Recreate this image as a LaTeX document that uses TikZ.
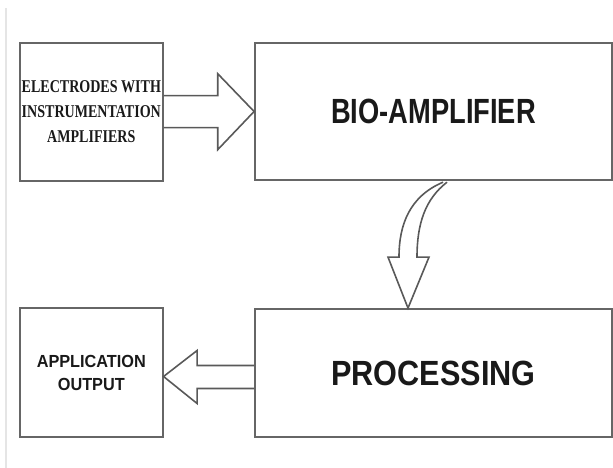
\documentclass[tikz,border=0pt]{standalone}
\usepackage{fontspec}
\setmainfont{Liberation Serif}
\setsansfont{Liberation Sans}
\usepackage{graphicx}
\usepackage{tikz}
\usetikzlibrary{calc}
\newcommand{\narrowtxt}[2][0.8]{\scalebox{#1}[1]{#2}}

\begin{document}
\begin{tikzpicture}[x=1pt,y=-1pt]
\tikzset{blk/.style={draw=black!60,line width=1.8pt,rectangle,inner sep=0pt,text=black!90}}
\tikzset{barrow/.style={draw=black!65,line width=1.6pt,line join=miter}}
\useasboundingbox (0,0) rectangle (613,468);
\draw [black!10,line width=1.5pt] (6,8) -- (6,468);

\node (1) at (91.3,111.7) [blk,minimum width=143pt,minimum height=138pt,align=center,font=\bfseries\fontsize{18}{24.7}\selectfont] {\narrowtxt[0.78]{ELECTRODES WITH}\\\narrowtxt[0.78]{INSTRUMENTATION}\\\narrowtxt[0.78]{AMPLIFIERS}};
\node (2) at (433.5,111.5) [blk,minimum width=357pt,minimum height=137.6pt,font=\sffamily\bfseries\fontsize{35}{40}\selectfont] {\narrowtxt[0.78]{BIO-AMPLIFIER}};
\node (3) at (433.5,373) [blk,minimum width=357pt,minimum height=128pt,font=\sffamily\bfseries\fontsize{35}{40}\selectfont] {\narrowtxt[0.875]{PROCESSING}};
\node (4) at (91.3,372.5) [blk,minimum width=142.7pt,minimum height=128.4pt,align=center,font=\sffamily\bfseries\fontsize{17.5}{23}\selectfont] {\narrowtxt[0.93]{APPLICATION}\\\narrowtxt[0.93]{OUTPUT}};

% block arrows
\draw [barrow] ($(1.east)+(0,-16)$) -- ++(54,0) -- ++(0,-22) -- (2.west) -- ($(1.east)+(54,38)$) -- ++(0,-22) -- ($(1.east)+(0,16)$);
\draw [barrow] ($(2.south)+(9.5,1)$) .. controls ($(2.south)+(-23.5,15)$) and ($(3.north)+(-34.5,-84)$) .. ($(3.north)+(-34.5,-51)$) -- ++(-11,0) -- ($(3.north)+(-25.5,0)$) -- ($(3.north)+(-4.5,-51)$) -- ++(-12,0) .. controls ($(3.north)+(-16.5,-84)$) and ($(2.south)+(-8.5,18)$) .. ($(2.south)+(13.5,1)$);
\draw [barrow] ($(3.west)+(0,-7.5)$) -- ++(-57,0) -- ++(0,-15) -- ($(4.east)+(0,4)$) -- ($(3.west)+(-57,30.5)$) -- ++(0,-15) -- ($(3.west)+(0,15.5)$);
\end{tikzpicture}
\end{document}
